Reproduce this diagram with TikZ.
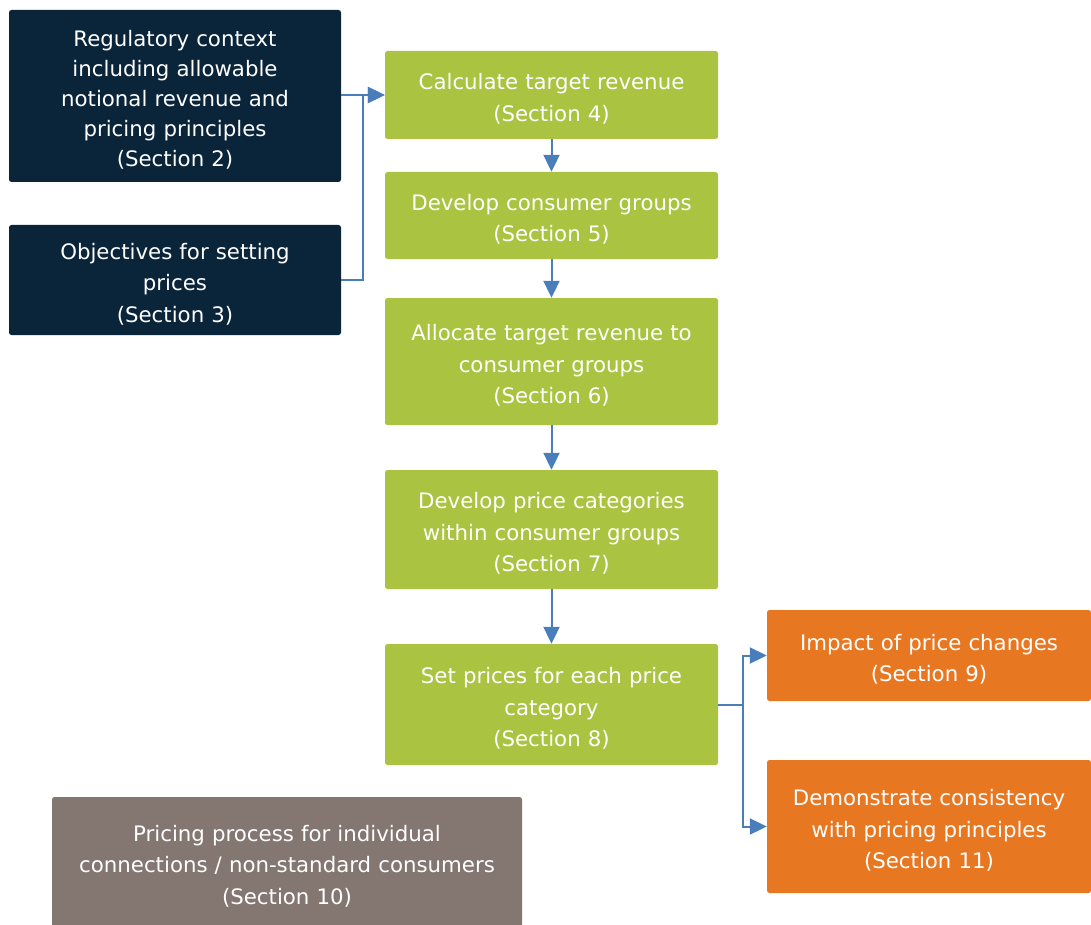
\documentclass[tikz,border=0pt]{standalone}
\usepackage{fontspec}
\setmainfont{DejaVu Sans}
\usetikzlibrary{arrows.meta}
\begin{document}
\begin{tikzpicture}[x=1pt,y=-1pt,line cap=butt,line join=miter]
\definecolor{navyc}{HTML}{0A2439}
\definecolor{greenc}{HTML}{AAC340}
\definecolor{orangec}{HTML}{E87722}
\definecolor{brownc}{HTML}{847670}
\definecolor{arrowc}{HTML}{4A7EBB}

\tikzset{
box/.style={rounded corners=2.5pt, text=white, align=center, inner sep=0pt,
  font=\fontsize{21.3}{31.5}\selectfont, execute at begin node={\rule{0pt}{24pt}}},
ctxbox/.style={box, fill=navyc, minimum width=332, minimum height=172, text width=322},
stepbox/.style={box, fill=greenc, minimum width=333, text width=323},
outbox/.style={box, fill=orangec, minimum width=324, text width=314},
sidebox/.style={box, fill=brownc, minimum width=470, minimum height=130, text width=460},
flow/.style={draw=arrowc, line width=2pt, -{Triangle[length=17pt,width=16pt]}}
}

\useasboundingbox (0,0) rectangle (1091,925);

\node[ctxbox, font=\fontsize{21.3}{30}\selectfont] (reg) at (175,96) {Regulatory context\\including allowable\\notional revenue and\\pricing principles\\(Section 2)};
\node[ctxbox, minimum height=110] (obj) at (175,280) {Objectives for setting\\prices\\(Section 3)};

\node[stepbox, minimum height=88] (calc) at (551.5,95) {Calculate target revenue\\(Section 4)};
\node[stepbox, minimum height=87] (groups) at (551.5,215.5) {Develop consumer groups\\(Section 5)};
\node[stepbox, minimum height=127] (alloc) at (551.5,361.5) {Allocate target revenue to\\consumer groups\\(Section 6)};
\node[stepbox, minimum height=119] (cats) at (551.5,529.5) {Develop price categories\\within consumer groups\\(Section 7)};
\node[stepbox, minimum height=121] (prices) at (551.5,704.5) {Set prices for each price\\category\\(Section 8)};

\node[outbox, minimum height=91] (impact) at (929,655.5) {Impact of price changes\\(Section 9)};
\node[outbox, minimum height=133] (consist) at (929,826.5) {Demonstrate consistency\\with pricing principles\\(Section 11)};

\node[sidebox] (indiv) at (287,862) {Pricing process for individual\\connections / non-standard consumers\\(Section 10)};

\draw[flow] (reg.east |- calc.west) -- (calc.west);
\draw[flow] (obj.east) -- ++(22,0) |- (calc.west);
\draw[flow] (calc) -- (groups);
\draw[flow] (groups) -- (alloc);
\draw[flow] (alloc) -- (cats);
\draw[flow] (cats) -- (prices);
\draw[flow] (prices.east) -- ++(25,0) |- (impact.west);
\draw[flow] (prices.east) -- ++(25,0) |- (consist.west);
\end{tikzpicture}
\end{document}
